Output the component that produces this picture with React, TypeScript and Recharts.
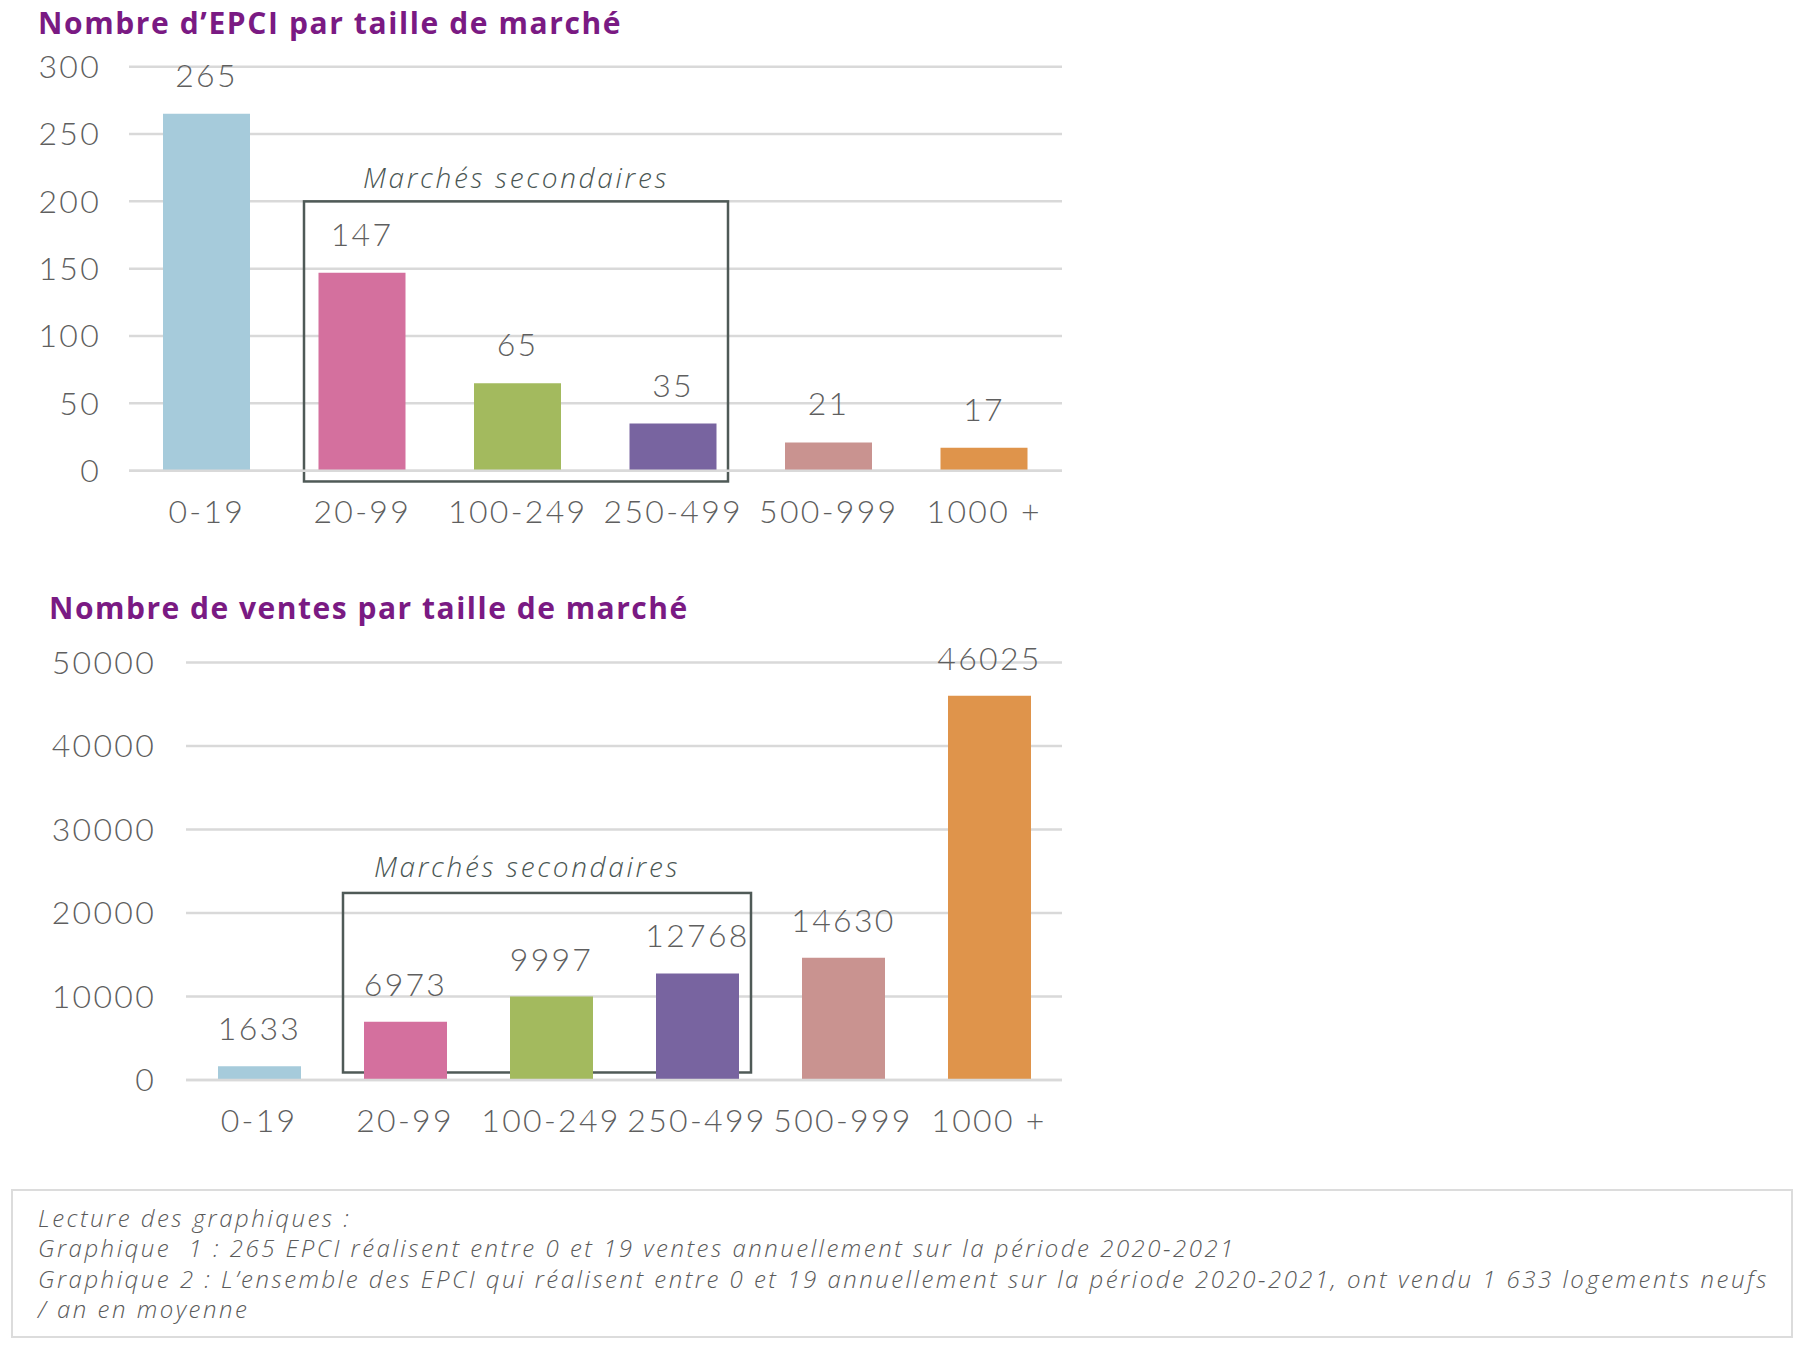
import React from 'react';
import { BarChart, Bar, XAxis, YAxis, CartesianGrid, Cell, LabelList, ReferenceArea } from 'recharts';

const categories = ['0-19', '20-99', '100-249', '250-499', '500-999', '1000 +'];
const epciCounts = [265, 147, 65, 35, 21, 17];
const salesCounts = [1633, 6973, 9997, 12768, 14630, 46025];
const epciTicks = [0, 50, 100, 150, 200, 250, 300];
const salesTicks = [0, 10000, 20000, 30000, 40000, 50000];
const barColors = ['#A6CBDB', '#D4709E', '#A3BA5E', '#7864A0', '#C99390', '#DF944B'];
const title1 = 'Nombre d\u2019EPCI par taille de march\u00e9';
const title2 = 'Nombre de ventes par taille de march\u00e9';
const boxLabel = 'March\u00e9s secondaires';
const footerLines = [
  'Lecture des graphiques :',
  'Graphique  1 : 265 EPCI r\u00e9alisent entre 0 et 19 ventes annuellement sur la p\u00e9riode 2020-2021',
  'Graphique 2 : L\u2019ensemble des EPCI qui r\u00e9alisent entre 0 et 19 annuellement sur la p\u00e9riode 2020-2021, ont vendu 1 633 logements neufs',
  '/ an en moyenne',
];

const data1 = categories.map((c, i) => ({ cat: c, value: epciCounts[i] }));
const data2 = categories.map((c, i) => ({ cat: c, value: salesCounts[i] }));

const FONT = "Lato, 'Open Sans', sans-serif";
const WIDE = "'Open Sans', Lato, sans-serif";
const TEXT = '#5f5f5f';

const makeBox = (insetL: number, insetR: number, labelDx: number, labelGap: number) => (props: any) => {
  const { x, y, width, height } = props;
  const x0 = x + insetL;
  const w = width - insetL - insetR;
  return (
    <g>
      <rect x={x0} y={y} width={w} height={height} fill="none" stroke="#4f5a57" strokeWidth={2.5} />
      <text
        x={x0 + w / 2 + labelDx}
        y={y - labelGap}
        textAnchor="middle"
        fontFamily={WIDE}
        fontStyle="italic"
        fontWeight={300}
        fontSize={28}
        letterSpacing={2.7}
        fill="#4a5653"
      >
        {boxLabel}
      </text>
    </g>
  );
};

const tickStyle = { fontFamily: FONT, fontSize: 32, fill: TEXT, fontWeight: 300, letterSpacing: 2.3 };

export default function App() {
  return (
    <div style={{ position: 'absolute', left: 0, top: 0, width: 1800, height: 1348, background: '#fff', fontFamily: FONT }}>
      <div style={{ position: 'absolute', left: 38, top: 5, fontFamily: WIDE, fontSize: 30, fontWeight: 700, color: '#7A1A83', lineHeight: '36px', whiteSpace: 'nowrap', letterSpacing: 1.6 }}>
        {title1}
      </div>
      <div style={{ position: 'absolute', left: 0, top: 0 }}>
        <BarChart width={1100} height={560} data={data1} margin={{ top: 66.7, right: 38, left: 29, bottom: 29.3 }}>
          <CartesianGrid vertical={false} stroke="#d9d9d9" strokeWidth={2.5} />
          <XAxis dataKey="cat" axisLine={{ stroke: '#d9d9d9', strokeWidth: 2.5 }} tickLine={false} tickMargin={24} height={60} tick={tickStyle} interval={0} />
          <YAxis width={100} domain={[0, 300]} ticks={epciTicks} axisLine={false} tickLine={false} tickMargin={22} tick={tickStyle} />
          <Bar dataKey="value" barSize={87} isAnimationActive={false}>
            {data1.map((d, i) => (
              <Cell key={d.cat} fill={barColors[i]} />
            ))}
            <LabelList dataKey="value" position="top" offset={27} style={tickStyle} />
          </Bar>
          <ReferenceArea x1="20-99" x2="250-499" y1={-8} y2={200} ifOverflow="visible" shape={makeBox(19.5, 23, 0, 13)} />
        </BarChart>
      </div>
      <div style={{ position: 'absolute', left: 49, top: 590, fontFamily: WIDE, fontSize: 30, fontWeight: 700, color: '#7A1A83', lineHeight: '36px', whiteSpace: 'nowrap', letterSpacing: 1.5 }}>
        {title2}
      </div>
      <div style={{ position: 'absolute', left: 0, top: 570 }}>
        <BarChart width={1100} height={600} data={data2} margin={{ top: 92.5, right: 38, left: 66, bottom: 30 }}>
          <CartesianGrid vertical={false} stroke="#d9d9d9" strokeWidth={2.5} />
          <XAxis dataKey="cat" axisLine={{ stroke: '#d9d9d9', strokeWidth: 2.5 }} tickLine={false} tickMargin={23} height={60} tick={tickStyle} interval={0} />
          <YAxis width={120} domain={[0, 50000]} ticks={salesTicks} axisLine={false} tickLine={false} tickMargin={24} tick={tickStyle} />
          <Bar dataKey="value" barSize={83} isAnimationActive={false}>
            {data2.map((d, i) => (
              <Cell key={d.cat} fill={barColors[i]} />
            ))}
            <LabelList dataKey="value" position="top" offset={26} style={tickStyle} />
          </Bar>
          <ReferenceArea x1="20-99" x2="250-499" y1={900} y2={22400} ifOverflow="visible" shape={makeBox(11, 19, -20, 16)} />
        </BarChart>
      </div>
      <div
        style={{
          position: 'absolute',
          left: 11,
          top: 1189,
          width: 1782,
          height: 149,
          border: '2px solid #dcdcdc',
          paddingTop: 12,
          paddingLeft: 25,
          boxSizing: 'border-box',
        }}
      >
        {footerLines.map((l) => (
          <div key={l} style={{ fontFamily: WIDE, fontStyle: 'italic', fontWeight: 300, fontSize: 24, letterSpacing: 2.5, lineHeight: '30.4px', color: '#5a5a5a', whiteSpace: 'pre' }}>
            {l}
          </div>
        ))}
      </div>
    </div>
  );
}
